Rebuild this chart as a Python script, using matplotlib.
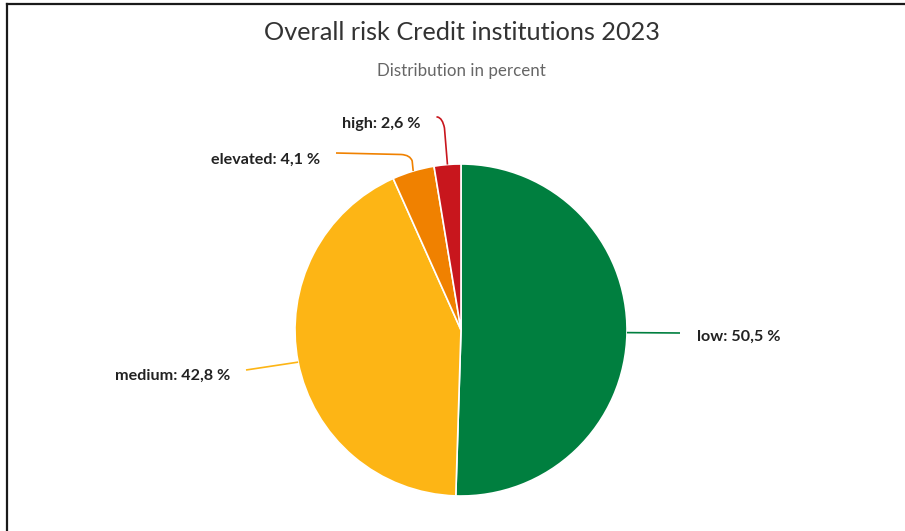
import numpy as np
import matplotlib
matplotlib.use("Agg")
import matplotlib.pyplot as plt
from matplotlib.path import Path
from matplotlib.patches import PathPatch
from matplotlib.lines import Line2D

plt.rcParams['font.family'] = ['Lato', 'DejaVu Sans']

# Risk classes and their shares (percent)
categories = ["low", "medium", "elevated", "high"]
shares = [50.5, 42.8, 4.1, 2.6]
colors = ["#007F3F", "#FDB515", "#F08100", "#C8161D"]
label_texts = ["low: 50,5 %", "medium: 42,8 %", "elevated: 4,1 %", "high: 2,6 %"]

title = "Overall risk Credit institutions 2023"
subtitle = "Distribution in percent"

W, H = 905, 531
fig = plt.figure(figsize=(W / 100, H / 100), dpi=100)
ax = fig.add_axes([0, 0, 1, 1])

def py(y):
    """Convert a top-down pixel row to data y."""
    return H - y

cx, cy, r = 461, py(330), 166
wedges, _ = ax.pie(shares, colors=colors, startangle=90, counterclock=False,
                   center=(cx, cy), radius=r, frame=True,
                   wedgeprops=dict(edgecolor="white", linewidth=1.2))
ax.set_xlim(0, W)
ax.set_ylim(0, H)
ax.axis("off")

def anchor(w):
    a = np.deg2rad((w.theta1 + w.theta2) / 2)
    return cx + r * np.cos(a), cy + r * np.sin(a)

def connector(points, codes, color):
    ax.add_patch(PathPatch(Path(points, codes), facecolor="none",
                           edgecolor=color, linewidth=1.2, zorder=3))

fs = 11.6
txt_kw = dict(fontsize=fs, fontweight="bold", color="#222222", va="center")

# low
x0, y0 = anchor(wedges[0])
connector([(x0, y0), (680, py(333))], [Path.MOVETO, Path.LINETO], colors[0])
ax.text(697, py(337), label_texts[0], ha="left", **txt_kw)

# medium
x0, y0 = anchor(wedges[1])
connector([(x0, y0), (246, py(370))], [Path.MOVETO, Path.LINETO], colors[1])
ax.text(230, py(376), label_texts[1], ha="right", **txt_kw)

# elevated
x0, y0 = anchor(wedges[2])
connector([(x0, y0), (x0 - 1, py(161)), (x0 - 3, py(155)), (x0 - 12, py(154.5)),
           (336, py(153))],
          [Path.MOVETO, Path.LINETO, Path.CURVE3, Path.CURVE3, Path.LINETO],
          colors[2])
ax.text(320, py(160), label_texts[2], ha="right", **txt_kw)

# high
x0, y0 = anchor(wedges[3])
connector([(x0, y0), (x0 - 3, py(128)), (x0 - 5, py(118)), (x0 - 10, py(117)),
           (x0 - 11, py(117))],
          [Path.MOVETO, Path.LINETO, Path.CURVE3, Path.CURVE3, Path.LINETO],
          colors[3])
ax.text(420, py(124), label_texts[3], ha="right", **txt_kw)

# Titles
ax.text(W / 2 + 9, py(33), title, ha="center", va="center",
        fontsize=18.2, color="#333333")
ax.text(W / 2 + 9, py(71), subtitle, ha="center", va="center",
        fontsize=12.2, color="#666666")

# Outer frame (top and left edges)
fig.add_artist(Line2D([7 / W, 7 / W], [0, 1 - 4 / H], transform=fig.transFigure,
                      color="#1a1a1a", linewidth=1.6))
fig.add_artist(Line2D([7 / W, 1], [1 - 4 / H, 1 - 4 / H], transform=fig.transFigure,
                      color="#1a1a1a", linewidth=1.6))

fig.savefig("out.png", dpi=100, facecolor="white")
